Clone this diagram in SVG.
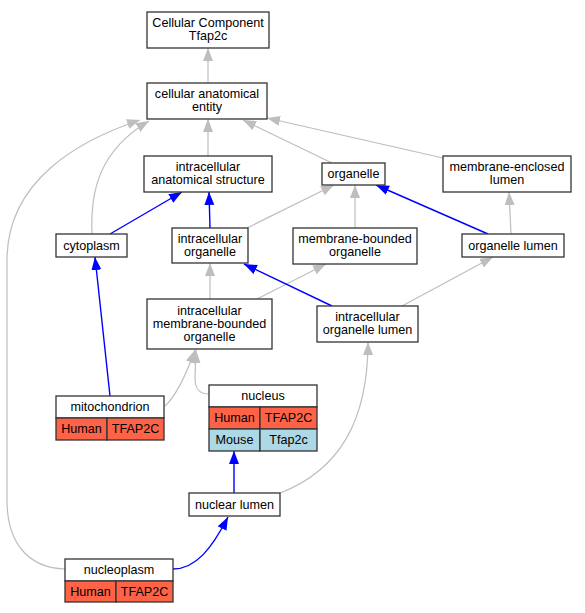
<svg xmlns="http://www.w3.org/2000/svg" width="585" height="613" viewBox="0 0 585 613">
<style>
.n{fill:#fff;stroke:#333;stroke-width:1.3}
.h{fill:#FF6347;stroke:#333;stroke-width:1.3}
.m{fill:#ADD8E6;stroke:#333;stroke-width:1.3}
text{font-family:"Liberation Sans",Arial,sans-serif;font-size:12.6px;text-anchor:middle;fill:#000}
.g{fill:none;stroke:#BEBEBE;stroke-width:1.2;marker-end:url(#ag)}
.b{fill:none;stroke:#0000FF;stroke-width:1.4;marker-end:url(#ab)}
</style>
<defs>
<marker id="ag" markerUnits="userSpaceOnUse" markerWidth="15" markerHeight="12" refX="13" refY="5" orient="auto"><path d="M0,0 L13,5 L0,10 z" fill="#BEBEBE"/></marker>
<marker id="ab" markerUnits="userSpaceOnUse" markerWidth="15" markerHeight="12" refX="13" refY="5" orient="auto"><path d="M0,0 L13,5 L0,10 z" fill="#0000FF"/></marker>
</defs>
<rect width="585" height="613" fill="#fff"/>
<g id="edges">
<path class="g" d="M208,83 L208,48"/>
<path class="g" d="M208,156 L208,119"/>
<path class="g" d="M332,163 L243,120"/>
<path class="g" d="M443,158 L267,118"/>
<path class="g" d="M92,234 C90,190 100,150 149,121"/>
<path class="g" d="M65,569 C30,568 7,545 7,500 L7,260 C7,180 80,140 140,120"/>
<path class="b" d="M110,234 L182,192"/>
<path class="b" d="M210,228 L209,192"/>
<path class="g" d="M247,228 L334,185"/>
<path class="g" d="M355,228 L355,185"/>
<path class="b" d="M488,234 L376,185"/>
<path class="g" d="M511,234 L509,192"/>
<path class="g" d="M210,299 L210,263"/>
<path class="g" d="M257,299 L326,264"/>
<path class="b" d="M332,306 L244,264"/>
<path class="g" d="M402,306 L493,257"/>
<path class="b" d="M110,396 L95,257"/>
<path class="g" d="M165,406 C176,396 186,375 195,350"/>
<path class="g" d="M209,394 C199,394 195,389 195,378 L196,350"/>
<path class="b" d="M234,493 L234,451"/>
<path class="g" d="M280,493 C340,470 368,420 368,342"/>
<path class="b" d="M173,569 C196,569 212,548 228,517"/>
</g>
<g id="cc"><rect class="n" x="147" y="12" width="122" height="36"/><text x="208" y="27">Cellular Component</text><text x="208" y="40">Tfap2c</text></g>
<g id="cae"><rect class="n" x="147" y="83" width="120" height="36"/><text x="207" y="98">cellular anatomical</text><text x="207" y="111">entity</text></g>
<g id="ias"><rect class="n" x="144" y="156" width="128" height="36"/><text x="208" y="171">intracellular</text><text x="208" y="184">anatomical structure</text></g>
<g id="organelle"><rect class="n" x="322" y="163" width="63" height="22"/><text x="353.5" y="178">organelle</text></g>
<g id="mel"><rect class="n" x="443" y="156" width="128" height="36"/><text x="507" y="171">membrane-enclosed</text><text x="507" y="184">lumen</text></g>
<g id="cytoplasm"><rect class="n" x="56" y="234" width="71" height="23"/><text x="91.5" y="250">cytoplasm</text></g>
<g id="io"><rect class="n" x="172" y="228" width="76" height="35"/><text x="210" y="243">intracellular</text><text x="210" y="256">organelle</text></g>
<g id="mbo"><rect class="n" x="293" y="228" width="124" height="36"/><text x="355" y="243">membrane-bounded</text><text x="355" y="256">organelle</text></g>
<g id="ol"><rect class="n" x="462" y="234" width="102" height="23"/><text x="513" y="250">organelle lumen</text></g>
<g id="imbo"><rect class="n" x="147" y="299" width="125" height="50"/><text x="209.5" y="314.5">intracellular</text><text x="209.5" y="327.5">membrane-bounded</text><text x="209.5" y="340.5">organelle</text></g>
<g id="iol"><rect class="n" x="317" y="306" width="101" height="36"/><text x="367.5" y="321">intracellular</text><text x="367.5" y="334">organelle lumen</text></g>
<g id="mito"><rect class="n" x="56" y="396" width="108" height="22"/><rect class="h" x="56" y="418" width="51" height="22"/><rect class="h" x="107" y="418" width="57" height="22"/><text x="110" y="411">mitochondrion</text><text x="81.5" y="433">Human</text><text x="135.5" y="433">TFAP2C</text></g>
<g id="nucleus"><rect class="n" x="209" y="385" width="108" height="22"/><rect class="h" x="209" y="407" width="51" height="22"/><rect class="h" x="260" y="407" width="57" height="22"/><rect class="m" x="209" y="429" width="51" height="22"/><rect class="m" x="260" y="429" width="57" height="22"/><text x="263" y="400">nucleus</text><text x="234.5" y="422">Human</text><text x="288.5" y="422">TFAP2C</text><text x="234.5" y="444">Mouse</text><text x="288.5" y="444">Tfap2c</text></g>
<g id="nl"><rect class="n" x="189" y="493" width="91" height="23"/><text x="234.5" y="509">nuclear lumen</text></g>
<g id="nucleoplasm"><rect class="n" x="65" y="559" width="108" height="22"/><rect class="h" x="65" y="581" width="51" height="21"/><rect class="h" x="116" y="581" width="57" height="21"/><text x="119" y="574">nucleoplasm</text><text x="90.5" y="596">Human</text><text x="144.5" y="596">TFAP2C</text></g>
</svg>
